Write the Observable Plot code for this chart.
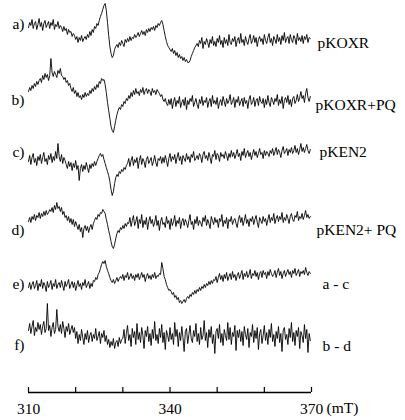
<!DOCTYPE html>
<html>
<head>
<meta charset="utf-8">
<script src="https://cdn.jsdelivr.net/npm/d3@7"></script>
<script src="https://cdn.jsdelivr.net/npm/@observablehq/plot@0.6"></script>
<style>
  html, body { margin: 0; padding: 0; background: #fff; }
  #chart svg { display: block; }
</style>
</head>
<body>
<div id="chart"></div>
<script>
// ---- data: field sampling (mT) ----
const fieldStart = 310;
const fieldStep = 0.25;
const axisTicks = [310, 320, 330, 340, 350, 360, 370];
const axisLabelTicks = [310, 340, 370];
const axisUnit = "(mT)";

const traceIds = ["a)", "b)", "c)", "d)", "e)", "f)"];
const sampleNames = ["pKOXR", "pKOXR+PQ", "pKEN2", "pKEN2+ PQ", "a - c", "b - d"];

// ---- data: EPR signal amplitudes (arbitrary units) ----
const traceA = [
  13,18,15,21,12,17,19,11,16,22,14,18,10,17,20,13,16,19,12,18,15,21,11,16,14,19,12,15,
  13,9,14,10,12,6,11,8,9,4,7,5,
  1,4,-2,3,0,5,-1,2,4,1,
  6,3,9,5,11,8,14,12,17,15,
  20,24,27,31,35,37,
  30,18,5,-6,-13,-17,-15,-9,-6,
  -4,-7,-2,-5,0,-3,-6,1,-2,2,-1,4,0,3,
  2,6,3,5,8,4,7,10,6,9,5,11,8,12,9,13,11,14,10,15,13,17,15,
  18,20,16,10,4,-1,-5,-7,-9,
  -11,-8,-13,-10,-15,-12,-17,-14,-18,-16,-20,-17,-21,-19,-22,
  -22,-20,-16,-13,-10,-7,-5,-3,
  -6,0,-3,3,-8,-1,-4,2,-2,-7,1,-3,4,-5,-1,-6,2,-2,5,-4,
  0,-7,3,-3,1,-5,6,-2,-4,2,-1,4,-6,0,3,-3,7,-2,1,-5,
  4,-1,-4,2,6,-3,0,5,-2,3,-6,1,4,-1,2,-4,6,0,-3,3,
  7,-2,2,-5,4,1,-3,6,-1,3,-4,5,0,8,-2,2,4,-3,6,1,
  -2,5,2,-4,7,0,3,-1,5,-3,4,1,6,-2,3,2
];
const traceB = [
  9,13,10,15,12,17,14,19,16,20,
  22,18,25,21,27,23,26,20,25,
  42,28,
  24,29,26,23,30,27,32,25,
  24,21,23,18,20,15,17,
  12,9,13,7,10,4,8,3,
  5,1,6,3,8,4,7,5,
  10,7,12,9,14,11,16,13,
  19,17,22,20,21,
  16,8,-2,-10,-18,-26,-30,-32,-26,
  -20,-14,-10,
  -7,-9,-4,-6,-1,-3,2,0,
  5,2,8,4,10,6,12,7,9,5,11,8,13,6,10,12,7,11,9,5,12,8,10,6,11,9,7,
  4,6,1,-1,2,-3,
  -5,1,-4,2,-8,-1,3,-6,0,-3,4,-7,-2,1,-5,3,-9,0,-4,2,
  -1,5,-6,-2,2,-4,-8,1,-3,4,-5,0,-2,3,-7,-1,2,-6,5,-3,
  0,-4,3,-8,-2,1,-5,4,-1,-6,2,-3,0,6,-4,-1,3,-7,1,-2,
  4,-5,-1,2,-6,3,-3,0,-8,1,5,-4,-2,3,-6,0,2,-5,4,-1,
  -3,2,-7,1,-4,5,-2,-6,3,0,-4,2,-1,6,-5,1,-3,4,-8,0,
  3,-2,5,-4,1,-6,2,4,-3,0,6,-1,3,9,2,5,-2,7,12,3,-1,4
];
const traceC = [
  4,10,1,8,12,3,7,0,9,5,11,2,8,13,4,7,1,10,6,12,3,9,5,14,7,22,9,4,11,2,8,5,
  1,-3,4,-1,3,-5,2,-2,5,-4,0,-15,
  -3,1,-6,0,-4,3,-2,-7,1,-3,2,-1,4,0,
  4,7,10,12,9,11,
  6,2,-2,-6,-10,
  -16,-24,-30,-26,-18,
  -12,-9,-11,-6,-8,-4,-6,-2,-4,0,
  2,7,-1,5,9,0,6,3,8,-3,5,10,1,7,4,-2,6,9,2,5,8,0,4,10,3,-1,7,5,9,2,
  8,3,10,5,-1,7,12,4,9,6,11,2,8,13,5,9,1,10,7,4,12,6,9,3,11,8,14,5,7,10,
  6,12,9,3,11,14,7,10,5,13,8,2,11,9,15,6,12,10,4,13,9,11,7,14,10,5,12,8,15,9,
  13,7,11,16,9,12,5,14,10,17,8,12,15,9,13,6,11,16,10,14,8,12,17,11,13,7,15,10,14,12,
  9,15,12,17,10,14,18,11,16,13,8,15,19,12,14,17,10,16,13,18,12,15,20,13,17,11,16,22,14,18,13,17,21,15,12,16
];
const traceD = [
  4,8,3,9,6,11,5,10,8,13,7,12,9,14,10,15,11,13,16,
  14,18,13,20,16,23,17,19,14,18,
  11,14,8,10,5,9,3,7,1,6,-1,4,0,
  -4,1,-6,-2,-12,-3,0,-5,-1,-7,-2,1,-4,2,
  5,8,6,11,9,13,12,16,14,
  12,6,1,-5,-10,
  -16,-21,-23,-19,-13,
  -8,-5,-7,-2,-4,0,-3,2,-1,3,
  2,8,-1,5,10,0,4,9,-3,6,2,11,-2,5,1,8,-4,4,9,2,6,-1,3,10,0,5,-5,4,8,1,
  3,-2,9,2,5,-4,7,0,4,10,-1,5,2,8,-3,4,7,0,6,3,-2,5,11,1,4,-4,6,2,9,0,
  5,3,-1,8,4,10,0,6,2,-3,9,5,1,8,3,6,-2,7,4,11,-1,5,2,8,-3,6,4,9,1,5,
  7,2,-2,6,10,3,8,0,5,11,2,6,-1,7,4,9,1,6,10,3,-2,8,5,2,9,4,7,0,6,11,
  3,8,5,12,2,7,10,4,9,6,13,3,8,5,11,7,2,9,12,6,4,10,8,14,5,9,7,12,6,10,15,8,11,7,9
];
const traceE = [
  -5,0,-7,-2,1,-6,-3,2,-8,-1,-4,3,-6,0,-3,-9,1,-5,-2,2,
  -7,-1,-4,3,-6,-2,0,-5,2,-3,-8,1,-4,-1,3,-6,-2,1,-5,0,
  -8,-3,2,-4,-1,-7,0,-3,3,-5,-2,1,-6,-1,-4,2,
  1,5,3,8,10,
  14,18,21,19,22,
  16,12,9,5,2,
  0,3,-1,2,5,1,4,6,
  4,8,2,7,5,10,3,6,9,4,7,2,8,5,9,3,6,10,5,8,1,6,9,4,7,3,8,5,10,4,7,6,9,
  8,20,14,6,
  3,-2,-5,-8,-7,
  -9,-12,-10,-15,-13,-17,-15,-20,-18,-21,-19,-17,-20,-16,-14,
  -16,-12,-14,-10,-12,-8,-11,-7,-9,-5,-8,-4,-6,-2,-5,-1,-3,1,-2,2,-1,3,
  2,6,0,5,9,3,7,1,8,4,10,2,6,9,3,11,5,8,2,7,
  10,4,8,12,3,9,6,11,5,8,13,4,9,7,12,6,10,3,9,11,
  5,12,8,10,4,11,7,13,9,6,8,12,5,10,14,7,11,4,9,12,
  6,10,13,8,11,5,12,9,14,7,10,13,6,11,9,12,8,15,10,7,11,9
];
const traceF = [
  5,12,2,9,15,0,8,4,13,6,11,1,9,14,3,7,32,5,10,-1,8,13,2,6,26,9,4,11,2,14,7,-2,9,4,12,1,6,10,3,8,
  -3,4,-8,1,-5,6,-2,-9,2,-4,5,-7,0,3,-6,1,-3,7,-5,-1,4,-8,2,-2,5,-6,0,
  -9,-4,-12,-6,-10,-3,-13,-7,-5,-11,-2,-8,-4,
  -3,6,-8,2,10,-5,1,-11,7,-2,4,-9,12,-4,3,-7,8,0,-13,5,
  -1,9,-6,2,-10,6,-3,14,-5,1,-8,7,-2,11,-7,3,-14,5,0,-6,
  8,-4,2,-9,13,-1,6,-11,3,-5,9,-2,-16,4,7,-8,1,10,-3,-7,
  5,-1,12,-6,2,-9,8,-4,0,15,-5,3,-12,6,-2,9,-8,1,-18,4,
  7,-3,11,-7,2,-10,6,0,-5,13,-4,8,-9,3,-1,10,-15,5,-2,6,
  -6,4,-10,9,1,-4,7,-12,3,-1,11,-7,5,-3,8,-14,2,6,-8,0,
  10,-5,3,-9,6,-2,12,-6,1,-11,4,-3,9,-7,2,-16,5,8,-4,1,
  -9,7,-2,13,-6,3,-10,5,-1,8,-13,4,0,-7,11,-3,6,-17,2,-5
];
const traces = [traceA, traceB, traceC, traceD, traceE, traceF];

// ---- layout (stacking levels and label placement, in y-scale units) ----
const layout = {
  traceLevel: [352, 292, 227, 167, 110, 57],
  idLevel: [368, 292, 240, 162, 108, 47],
  nameLevel: [349, 287, 240, 162, 108, 46],
  nameDx: [6, 4, 8, 5, 11, 11],
  tickLength: 5
};

const rows = traces.flatMap((vals, k) =>
  vals.map((v, i) => ({trace: k, x: fieldStart + i * fieldStep, y: layout.traceLevel[k] + v}))
);
const ids = traceIds.map((t, k) => ({text: t, y: layout.idLevel[k]}));
const names = sampleNames.map((t, k) => ({text: t, y: layout.nameLevel[k], dx: layout.nameDx[k]}));

const marks = [
  Plot.line(rows, {x: "x", y: "y", z: "trace", stroke: "#000", strokeWidth: 0.9, curve: "linear"}),
  Plot.text(ids, {x: fieldStart, y: "y", text: "text", textAnchor: "end", dx: -4, fill: "#000"}),
  ...names.map(n => Plot.text([n], {x: 370, y: "y", text: "text", textAnchor: "start", dx: n.dx, fill: "#000"})),
  Plot.ruleY([0], {x1: 310, x2: 370, stroke: "#000", strokeWidth: 1.4}),
  Plot.ruleX(axisTicks, {x: d => d, y1: 0, y2: layout.tickLength, stroke: "#000", strokeWidth: 1.2}),
  Plot.axisX({ticks: axisLabelTicks, tickSize: 0, tickPadding: 10, label: null, fill: "#000"}),
  Plot.text([axisUnit], {x: 370, y: -16, text: d => d, textAnchor: "start", dx: 15, fill: "#000"})
];

const chart = Plot.plot({
  width: 405,
  height: 420,
  marginLeft: 28,
  marginRight: 94,
  marginTop: 0,
  marginBottom: 28,
  x: {domain: [310, 370], label: null},
  y: {domain: [0, 392], axis: null},
  clip: false,
  style: {fontFamily: "'Liberation Serif', 'DejaVu Serif', serif", fontSize: "15.5px", background: "#fff", color: "#000", overflow: "visible"},
  marks
});
document.getElementById("chart").appendChild(chart);
</script>
</body>
</html>
